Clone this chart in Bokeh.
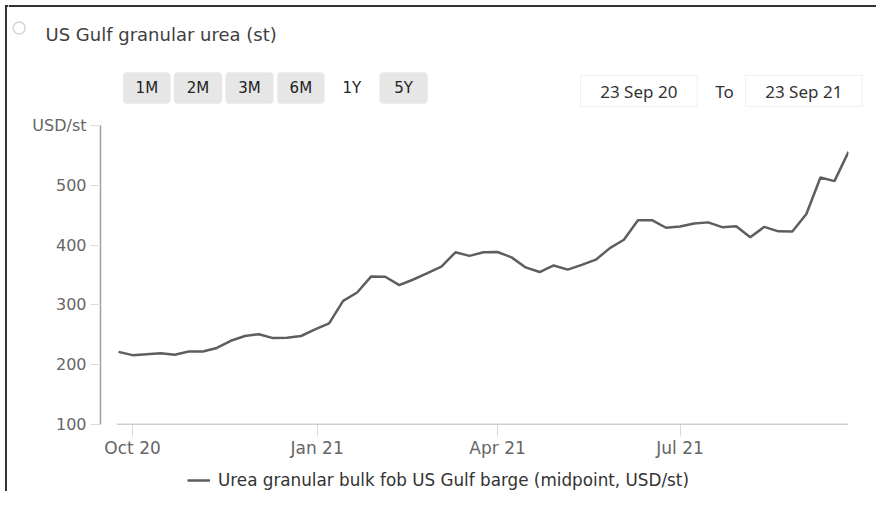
import pandas as pd
from bokeh.plotting import figure
from bokeh.layouts import row, column
from bokeh.models import (Range1d, FixedTicker, DatetimeTickFormatter, Label,
                          BoxAnnotation, Legend, LegendItem, ColumnDataSource)
from bokeh.embed import file_html
from bokeh.resources import INLINE

# ---------------- data ----------------
chart_title = "US Gulf granular urea (st)"
series_name = "Urea granular bulk fob US Gulf barge (midpoint, USD/st)"
unit_label = "USD/st"
range_buttons = ["1M", "2M", "3M", "6M", "1Y", "5Y"]
selected_button = "1Y"
date_from = "23 Sep 20"
date_to = "23 Sep 21"

week_dates = [
    "2020-09-24", "2020-10-01", "2020-10-08", "2020-10-15", "2020-10-22", "2020-10-29",
    "2020-11-05", "2020-11-12", "2020-11-19", "2020-11-26", "2020-12-03", "2020-12-10",
    "2020-12-17", "2020-12-24", "2020-12-31", "2021-01-07", "2021-01-14", "2021-01-21",
    "2021-01-28", "2021-02-04", "2021-02-11", "2021-02-18", "2021-02-25", "2021-03-04",
    "2021-03-11", "2021-03-18", "2021-03-25", "2021-04-01", "2021-04-08", "2021-04-15",
    "2021-04-22", "2021-04-29", "2021-05-06", "2021-05-13", "2021-05-20", "2021-05-27",
    "2021-06-03", "2021-06-10", "2021-06-17", "2021-06-24", "2021-07-01", "2021-07-08",
    "2021-07-15", "2021-07-22", "2021-07-29", "2021-08-05", "2021-08-12", "2021-08-19",
    "2021-08-26", "2021-09-02", "2021-09-09", "2021-09-16", "2021-09-23",
]
prices = [
    221.5, 216, 217.5, 219, 216.5, 222, 222, 228, 240, 248, 251, 244.5, 245, 248,
    259, 269, 306.7, 320.7, 347.6, 347, 333, 342.5, 353, 364, 388, 382, 388, 388.5,
    379.5, 362.7, 355, 366, 359, 367, 375.6, 395, 409, 441.7, 441.7, 429, 431, 436,
    438, 430, 431.6, 413, 430.5, 423, 422.7, 452, 513, 507, 556,
]
x_tick_dates = ["2020-10-01", "2021-01-01", "2021-04-01", "2021-07-01"]
y_ticks = [100, 200, 300, 400, 500, 600]

FONT = "DejaVu Sans"
LINE_COLOR = "#5e5e5e"
TOTAL_W, TOTAL_H = 876, 491
STRIP_W = 8
HEAD_H = 110
FOOT_H = 30
MAIN_W = TOTAL_W - STRIP_W
MAIN_H = TOTAL_H - HEAD_H - FOOT_H
MAIN_BOTTOM = HEAD_H + MAIN_H  # page y where the main chart canvas ends


def bare(width, height, x0, x1, y_top, y_bottom):
    f = figure(width=width, height=height, x_range=Range1d(x0, x1),
               y_range=Range1d(y_bottom, y_top), x_axis_type=None, y_axis_type=None,
               output_backend="svg", toolbar_location=None, min_border=0)
    f.outline_line_color = None
    f.grid.visible = False
    return f


def dark_box(fig, l, t, r, b):
    fig.add_layout(BoxAnnotation(left=l, right=r, top=t, bottom=b,
                                 fill_color="#333333", fill_alpha=1, line_color=None))


# ---------------- left strip (screenshot frame line) ----------------
strip = bare(STRIP_W, TOTAL_H, 0, STRIP_W, 0, TOTAL_H)
dark_box(strip, 4.5, 4.5, 6.5, TOTAL_H)
dark_box(strip, 4.5, 4.5, STRIP_W, 6.5)

# ---------------- header (title, range buttons, date inputs) ----------------
head = bare(MAIN_W, HEAD_H, STRIP_W, TOTAL_W, 0, HEAD_H)


def hbox(l, t, r, b, fill="white", line_color=None, radius=0, lw=1):
    head.add_layout(BoxAnnotation(left=l, right=r, top=t, bottom=b,
                                  fill_color=fill, fill_alpha=1 if fill else 0,
                                  line_color=line_color, line_width=lw,
                                  border_radius=int(radius)))


def hlabel(text, x, y, size="16px", color="#333333", align="center",
           baseline="middle", font=FONT):
    head.add_layout(Label(x=x, y=y, text=text, text_font=font, text_font_size=size,
                          text_color=color, text_align=align, text_baseline=baseline))


dark_box(head, STRIP_W, 4.5, TOTAL_W, 6.5)

# radio icon + title
hbox(12.7, 21.5, 24.7, 33.5, fill=None, line_color="#6e6e6e", radius=6, lw=1.5)
hlabel(chart_title, 45, 33.5, size="18px", color="#404040", align="left")

btn_bounds = [(122.7, 170), (173.3, 221.7), (225, 273), (276.7, 324), (326.5, 376), (379, 427.3)]
for name, (l, r) in zip(range_buttons, btn_bounds):
    if name != selected_button:
        hbox(l, 71.7, r, 103.3, fill="#e6e6e6", radius=4)
    hlabel(name, (l + r) / 2, 87.5, size="15px", color="#222222")

hbox(580, 75, 696.7, 106, fill="white", line_color="#cccccc")
hbox(745, 75, 861.7, 106, fill="white", line_color="#cccccc")
hlabel(date_from, 638.3, 90.5, size="17px", color="#333333", font="Noto Sans")
hlabel("To", 724, 90.5, size="17px", color="#333333", font="Noto Sans")
hlabel(date_to, 803.3, 90.5, size="17px", color="#333333", font="Noto Sans")

# ---------------- main chart ----------------
dates = pd.to_datetime(week_dates)
src = ColumnDataSource(dict(date=dates, price=prices))

FRAME_L, FRAME_R, FRAME_T, FRAME_B = 100, 848, 125, 424  # page pixels
p = figure(width=MAIN_W, height=MAIN_H, x_axis_type="datetime",
           output_backend="svg", toolbar_location=None,
           x_range=Range1d(dates[0] - pd.Timedelta(days=9), dates[-1]),
           y_range=Range1d(y_ticks[0], y_ticks[-1]),
           min_border_left=FRAME_L - STRIP_W, min_border_right=TOTAL_W - FRAME_R,
           min_border_top=FRAME_T - HEAD_H, min_border_bottom=MAIN_BOTTOM - FRAME_B)
p.outline_line_color = None
p.grid.visible = False

line = p.line("date", "price", source=src, line_color=LINE_COLOR, line_width=2.5)

xa = p.xaxis[0]
xa.ticker = FixedTicker(ticks=[pd.Timestamp(d).value / 1e6 for d in x_tick_dates])
fmt = "%b %y"
xa.formatter = DatetimeTickFormatter(milliseconds=fmt, seconds=fmt, minsec=fmt, minutes=fmt,
                                     hourmin=fmt, hours=fmt, days=fmt, months=fmt, years=fmt)
xa.axis_line_color = None
xa.major_tick_in = 0
xa.major_tick_out = 12
xa.major_tick_line_color = "#d9d9d9"
xa.minor_tick_line_color = None
xa.major_label_standoff = 1
xa.major_label_text_font = FONT
xa.major_label_text_font_size = "17px"
xa.major_label_text_color = "#666666"

ya = p.yaxis[0]
ya.ticker = FixedTicker(ticks=y_ticks)
ya.major_label_overrides = {y_ticks[-1]: unit_label}
ya.axis_line_color = "#a0a0a0"
ya.axis_line_width = 1.5
ya.major_tick_in = 0
ya.major_tick_out = 10
ya.major_tick_line_color = "#dcdcdc"
ya.minor_tick_line_color = None
ya.major_label_standoff = 4
ya.major_label_text_font = FONT
ya.major_label_text_font_size = "16px"
ya.major_label_text_color = "#666666"

# x axis line spanning only the data extent
p.add_layout(BoxAnnotation(left=dates[0] - pd.Timedelta(days=0.8), right=dates[-1],
                           top=0.75, bottom=-0.75,
                           top_units="screen", bottom_units="screen",
                           fill_color="#a0a0a0", fill_alpha=1, line_color=None))

# ---------------- footer with the series legend ----------------
foot = bare(MAIN_W, FOOT_H, STRIP_W, TOTAL_W, 0, FOOT_H)
# same series drawn with the same style (it falls outside this strip's ranges);
# it gives the legend its line sample
foot_line = foot.line("date", "price", source=src, line_color=LINE_COLOR, line_width=2.5)
legend = Legend(items=[LegendItem(label=series_name, renderers=[foot_line])],
                location=(187 - STRIP_W, 1), orientation="horizontal",
                padding=0, margin=0, glyph_width=23, glyph_height=20,
                label_height=20, label_standoff=8, spacing=0,
                border_line_color=None, background_fill_alpha=0,
                label_text_font=FONT, label_text_font_size="16.8px",
                label_text_color="#333333")
foot.add_layout(legend)

layout = row(strip, column(head, row(p, spacing=0), row(foot, spacing=0), spacing=0), spacing=0)
open("out.html", "w").write(file_html(layout, INLINE))
